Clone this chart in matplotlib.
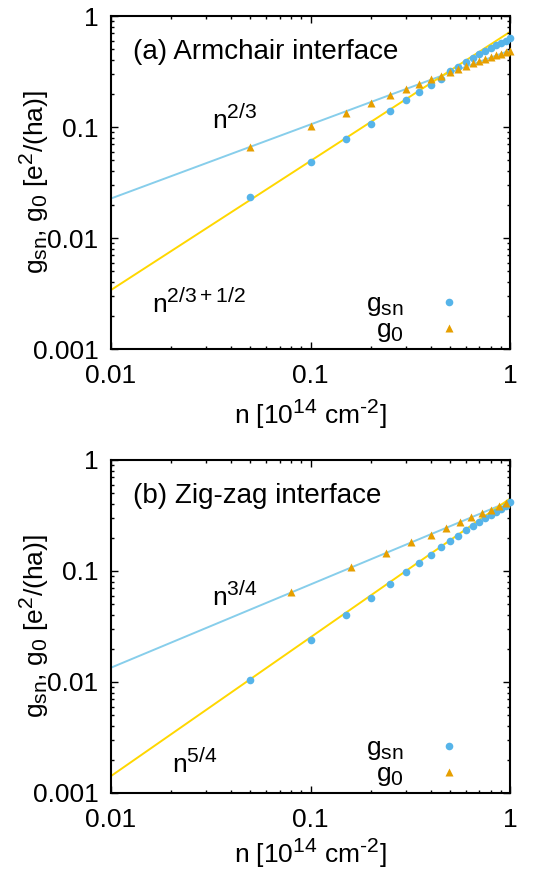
import numpy as np
import matplotlib
matplotlib.use('Agg')
import matplotlib.pyplot as plt
import matplotlib._mathtext as mt
from matplotlib.ticker import LogLocator, FixedLocator, FixedFormatter, NullFormatter

plt.rcParams['font.family'] = ['Liberation Sans', 'DejaVu Sans']
plt.rcParams['mathtext.fontset'] = 'custom'
plt.rcParams['mathtext.rm'] = 'Liberation Sans'
plt.rcParams['mathtext.it'] = 'Liberation Sans'
plt.rcParams['mathtext.bf'] = 'Liberation Sans:bold'
# gnuplot-like bigger super/subscripts
mt.SHRINK_FACTOR = 0.8

# --- (a) Armchair interface ---
n_a = [0.05, 0.10, 0.15, 0.20, 0.25, 0.30, 0.35, 0.40, 0.45, 0.50,
       0.55, 0.60, 0.65, 0.70, 0.75, 0.80, 0.85, 0.90, 0.95, 1.00]
gsn_a = [0.0233, 0.048, 0.078, 0.107, 0.139, 0.174, 0.208, 0.240, 0.272, 0.320,
         0.350, 0.385, 0.420, 0.455, 0.487, 0.518, 0.548, 0.575, 0.600, 0.630]
g0_a = [0.0665, 0.103, 0.135, 0.166, 0.193, 0.220, 0.245, 0.269, 0.290, 0.315,
        0.336, 0.355, 0.375, 0.393, 0.410, 0.427, 0.443, 0.457, 0.474, 0.487]
# fit lines (end points)
fit_n = [0.01, 1.0]
fit_g0_a = [0.0227, 0.49]     # ~ n^(2/3)
fit_gsn_a = [0.0034, 0.72]    # ~ n^(2/3+1/2)

# --- (b) Zig-zag interface ---
n_b_sn = [0.05, 0.10, 0.15, 0.20, 0.25, 0.30, 0.35, 0.40, 0.45, 0.50,
          0.55, 0.60, 0.65, 0.70, 0.75, 0.80, 0.85, 0.90, 0.95, 1.00]
gsn_b = [0.0104, 0.0237, 0.040, 0.0575, 0.0769, 0.0973, 0.118, 0.140, 0.163, 0.186,
         0.208, 0.234, 0.256, 0.278, 0.300, 0.321, 0.342, 0.364, 0.388, 0.416]
n_b_0 = [0.08, 0.16, 0.24, 0.32, 0.40, 0.48, 0.56, 0.64, 0.72, 0.80, 0.88, 0.96]
g0_b = [0.0643, 0.1087, 0.145, 0.182, 0.212, 0.245, 0.276, 0.305, 0.331, 0.357, 0.383, 0.407]
fit_g0_b = [0.01345, 0.425]   # ~ n^(3/4)
fit_gsn_b = [0.00142, 0.449]  # ~ n^(5/4)

C_SN = '#56B4E9'
C_0 = '#E69F00'
C_LBLUE = '#87CEEB'
C_GOLD = '#FFD700'
FS = 19

fig = plt.figure(figsize=(5.46, 8.71), dpi=100)
ax1 = fig.add_axes([0.2033, 0.5993, 0.7308, 0.3823])
ax2 = fig.add_axes([0.2033, 0.0896, 0.7308, 0.3823])


def style_axes(ax, labelpad):
    ax.set_xscale('log')
    ax.set_yscale('log')
    ax.set_xlim(0.01, 1)
    ax.set_ylim(0.001, 1)
    ax.xaxis.set_major_locator(FixedLocator([0.01, 0.1, 1]))
    ax.xaxis.set_major_formatter(FixedFormatter(['0.01', '0.1', '1']))
    ax.yaxis.set_major_locator(FixedLocator([0.001, 0.01, 0.1, 1]))
    ax.yaxis.set_major_formatter(FixedFormatter(['0.001', '0.01', '0.1', '1']))
    ax.xaxis.set_minor_locator(LogLocator(base=10, subs=np.arange(2, 10)))
    ax.yaxis.set_minor_locator(LogLocator(base=10, subs=np.arange(2, 10)))
    ax.xaxis.set_minor_formatter(NullFormatter())
    ax.yaxis.set_minor_formatter(NullFormatter())
    ax.tick_params(which='both', direction='in', top=True, right=True,
                   labelsize=FS, width=1.0)
    ax.tick_params(which='major', length=5)
    ax.tick_params(which='minor', length=2.5)
    ax.tick_params(axis='x', pad=11)
    ax.tick_params(axis='y', pad=9)
    for s in ax.spines.values():
        s.set_linewidth(1.5)
    ax.set_xlabel('n [10$^{14}$ cm$^{\u20102}$]', fontsize=FS, labelpad=labelpad)
    ax.set_ylabel(r'g$_{\rm sn}$, g$_0$ [e$^2$/(ha)]', fontsize=FS)
    ax.yaxis.set_label_coords(-0.15, 0.5)


style_axes(ax1, 7)
style_axes(ax2, 3)

# panel (a)
ax1.plot(fit_n, fit_g0_a, color=C_LBLUE, lw=1.4, zorder=1)
ax1.plot(fit_n, fit_gsn_a, color=C_GOLD, lw=1.4, zorder=1)
ax1.plot(n_a, gsn_a, 'o', color=C_SN, ms=5.5, mec='none', label=r'g$_{\rm sn}$', zorder=3, clip_on=False)
ax1.plot(n_a, g0_a, '^', color=C_0, ms=6, mec='none', label=r'g$_0$', zorder=3, clip_on=False)
ax1.text(0.055, 0.871, '(a) Armchair interface', transform=ax1.transAxes, fontsize=20, va='baseline')
ax1.text(0.252, 0.663, r'n$^{2/3}$', transform=ax1.transAxes, fontsize=FS, va='baseline')
ax1.text(0.102, 0.112, r'n$^{2/3+1/2}$', transform=ax1.transAxes, fontsize=FS, va='baseline')

# panel (b)
ax2.plot(fit_n, fit_g0_b, color=C_LBLUE, lw=1.4, zorder=1)
ax2.plot(fit_n, fit_gsn_b, color=C_GOLD, lw=1.4, zorder=1)
ax2.plot(n_b_sn, gsn_b, 'o', color=C_SN, ms=5.5, mec='none', label=r'g$_{\rm sn}$', zorder=3, clip_on=False)
ax2.plot(n_b_0, g0_b, '^', color=C_0, ms=6, mec='none', label=r'g$_0$', zorder=3, clip_on=False)
ax2.text(0.055, 0.870, '(b) Zig-zag interface', transform=ax2.transAxes, fontsize=20, va='baseline')
ax2.text(0.252, 0.565, r'n$^{3/4}$', transform=ax2.transAxes, fontsize=FS, va='baseline')
ax2.text(0.152, 0.064, r'n$^{5/4}$', transform=ax2.transAxes, fontsize=FS, va='baseline')

for ax in (ax1, ax2):
    ax.legend(loc='lower right', bbox_to_anchor=(0.88, 0.015), frameon=False,
              markerfirst=False, fontsize=FS, handlelength=1.0, handletextpad=1.2,
              labelspacing=0.0, borderpad=0, borderaxespad=0, numpoints=1)

fig.savefig('out.png', dpi=100)
